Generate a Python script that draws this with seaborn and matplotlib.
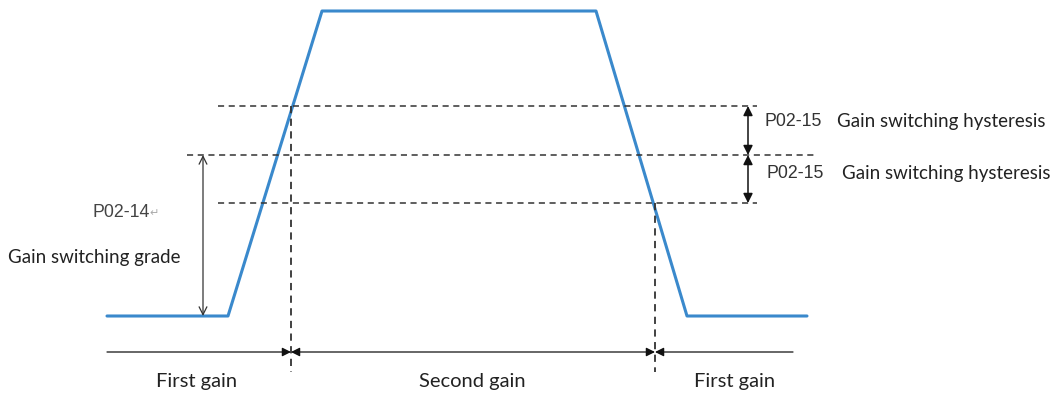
import numpy as np
import pandas as pd
import matplotlib
matplotlib.use("Agg")
import matplotlib.pyplot as plt
import seaborn as sns

# speed profile (trapezoid), in picture units (x right, y down)
profile_x = [107, 228, 322, 596, 687, 807]
profile_y = [316, 316, 11, 11, 316, 316]

# dashed threshold levels: y, x start, x end
level_y = [106, 155, 203]
level_x0 = [218, 187, 218]
level_x1 = [757, 817, 757]

# dashed switching instants: x, y start, y end
switch_x = [291, 655]
switch_y0 = [106, 203]
switch_y1 = [372, 372]

base_y = 316
axis_y = 352
axis_x0 = 107
axis_x1 = 793
grade_x = 203
hyst_x = 748

gain_labels = ["First gain", "Second gain", "First gain"]
gain_label_x = [197, 472, 735]

sns.set_theme(style="white")
plt.rcParams["font.family"] = ["Lato", "DejaVu Sans"]

fig = plt.figure(figsize=(10.54, 3.94), dpi=100)
ax = fig.add_axes([0, 0, 1, 1])
ax.set_xlim(0, 1054)
ax.set_ylim(394, 0)
ax.axis("off")

df = pd.DataFrame({"x": profile_x, "y": profile_y})
sns.lineplot(data=df, x="x", y="y", sort=False, color="#3a89cc", lw=2.2, ax=ax)

for y, x0, x1 in zip(level_y, level_x0, level_x1):
    ax.plot([x0, x1], [y, y], ls=(0, (4, 3)), color="#333333", lw=1.1)
for x, y0, y1 in zip(switch_x, switch_y0, switch_y1):
    ax.plot([x, x], [y0, y1], ls=(0, (4, 3)), color="#333333", lw=1.3)

# gain switching grade arrow (open heads)
ax.annotate("", xy=(grade_x, level_y[1]), xytext=(grade_x, base_y),
            arrowprops=dict(arrowstyle="<->", color="#333333", lw=0.9,
                            shrinkA=0, shrinkB=0, mutation_scale=14))

# hysteresis arrows (filled heads)
for ya, yb in [(level_y[0], level_y[1]), (level_y[1], level_y[2])]:
    ax.annotate("", xy=(hyst_x, ya), xytext=(hyst_x, yb),
                arrowprops=dict(arrowstyle="<|-|>", color="#111111", lw=1.1,
                                shrinkA=0, shrinkB=0, mutation_scale=14))

# time axis segments
segs = [(axis_x0, switch_x[0]), (switch_x[0], switch_x[1]), (switch_x[1], axis_x1)]
for i, (x0, x1) in enumerate(segs):
    style = "-|>" if i == 0 else ("<|-|>" if i == 1 else "<|-")
    ax.annotate("", xy=(x1, axis_y), xytext=(x0, axis_y),
                arrowprops=dict(arrowstyle=style, color="#111111", lw=0.9,
                                shrinkA=0, shrinkB=0, mutation_scale=13))

for lab, x in zip(gain_labels, gain_label_x):
    ax.text(x, 381, lab, ha="center", va="center", fontsize=14.5, color="#222222")

ax.text(93, 212, "P02-14", ha="left", va="center", fontsize=12.8,
        family="Liberation Sans", color="#444444")
ax.text(149, 213, "\u21b5", ha="left", va="center", fontsize=8,
        family="DejaVu Sans", color="#aaaaaa")
ax.text(8, 257, "Gain switching grade", ha="left", va="center",
        fontsize=13.5, color="#222222")

ax.text(764, 121, "P02-15", ha="left", va="center", fontsize=12.8,
        family="Liberation Sans", color="#333333")
ax.text(837, 121, "Gain switching hysteresis", ha="left", va="center",
        fontsize=13.5, color="#222222")
ax.text(767, 173, "P02-15", ha="left", va="center", fontsize=12.8,
        family="Liberation Sans", color="#333333")
ax.text(842, 173, "Gain switching hysteresis", ha="left", va="center",
        fontsize=13.5, color="#222222")

fig.savefig("out.png", dpi=100)
